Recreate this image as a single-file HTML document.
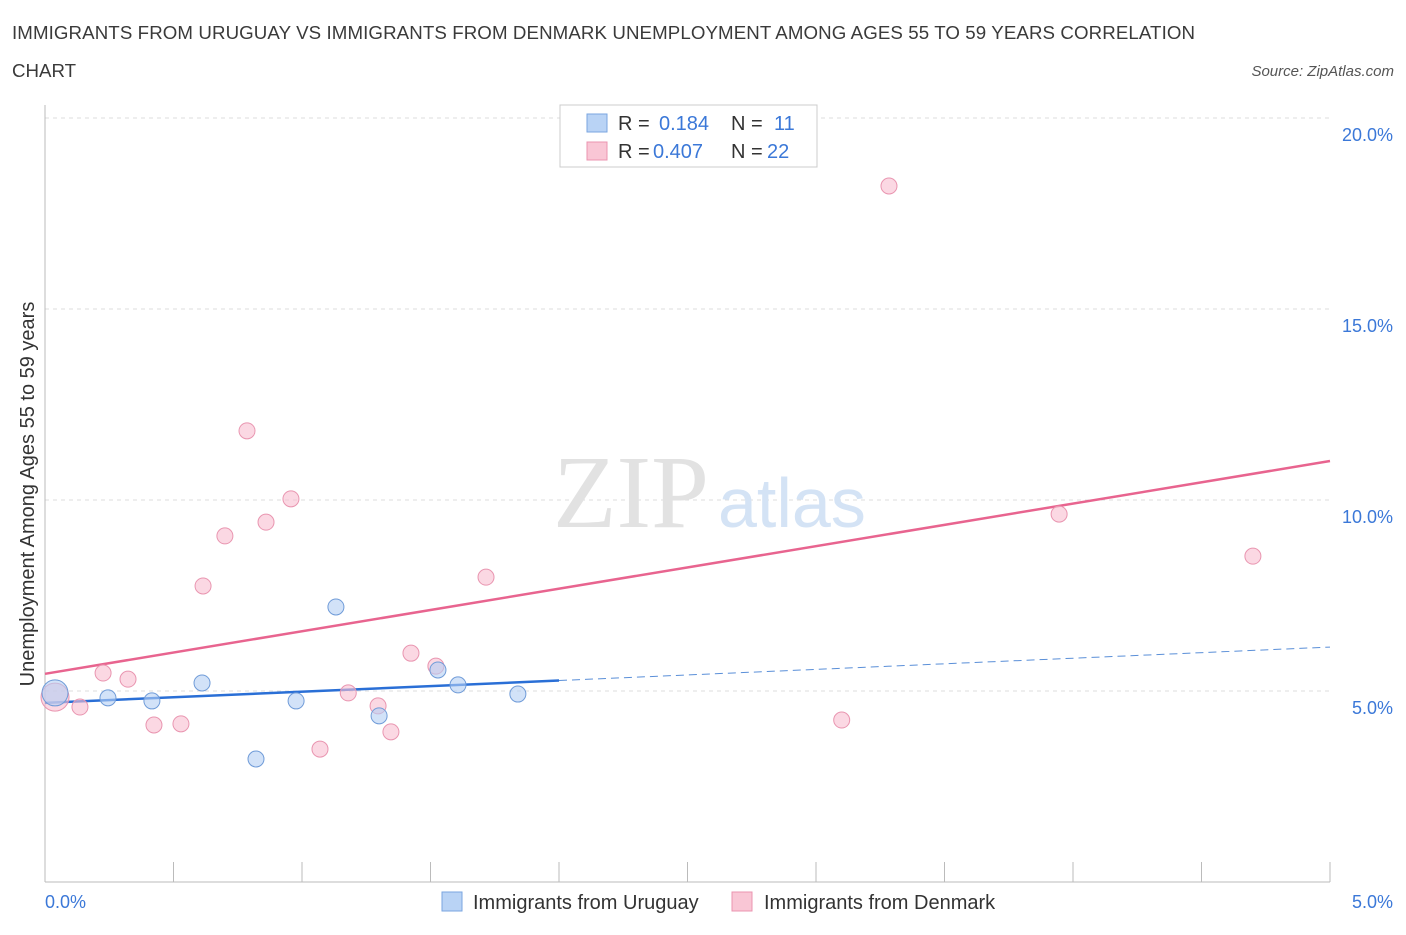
<!DOCTYPE html>
<html><head><meta charset="utf-8"><style>
body{margin:0;background:#fff;font-family:"Liberation Sans",sans-serif;}
</style></head><body>
<svg width="1406" height="930" xmlns="http://www.w3.org/2000/svg">
<text x="12" y="39" font-size="18.7" letter-spacing="0.1" fill="#3a3a3a">IMMIGRANTS FROM URUGUAY VS IMMIGRANTS FROM DENMARK UNEMPLOYMENT AMONG AGES 55 TO 59 YEARS CORRELATION</text>
<text x="12" y="77" font-size="18.7" fill="#3a3a3a">CHART</text>
<text x="1394" y="76" font-size="15" fill="#555" font-style="italic" text-anchor="end">Source: ZipAtlas.com</text>
<g id="grid"></g>
<text x="553" y="527" font-size="104" fill="#e2e2e2" font-family="Liberation Serif,serif">ZIP</text>
<text x="718" y="527" font-size="70" fill="#d4e3f5">atlas</text>
<line x1="45" y1="105" x2="45" y2="882" stroke="#bbb"/>
<line x1="45" y1="882" x2="1330" y2="882" stroke="#bbb"/>
<text transform="translate(34,494) rotate(-90)" font-size="20" fill="#333" text-anchor="middle">Unemployment Among Ages 55 to 59 years</text>
<text x="45" y="908" font-size="18" fill="#3b78d8">0.0%</text>
<text x="1393" y="908" font-size="18" fill="#3b78d8" text-anchor="end">5.0%</text>
<g id="lines"></g>
<g id="pts"></g>
<g>
<rect x="560" y="105" width="257" height="62" fill="#fff" stroke="#ccc"/>
<rect x="587" y="114" width="20" height="18" fill="#b9d3f5" stroke="#7aa6e0"/>
<rect x="587" y="142" width="20" height="18" fill="#f9c6d5" stroke="#eb94b0"/>
<text x="618" y="130" font-size="20" fill="#333">R = <tspan fill="#3b78d8" x="659">0.184</tspan><tspan x="731" fill="#333">N = </tspan><tspan fill="#3b78d8" x="774">11</tspan></text>
<text x="618" y="158" font-size="20" fill="#333">R = <tspan fill="#3b78d8" x="653">0.407</tspan><tspan x="731" fill="#333">N = </tspan><tspan fill="#3b78d8" x="767">22</tspan></text>
</g>
<g>
<rect x="442" y="892" width="20" height="19" fill="#b9d3f5" stroke="#7aa6e0"/>
<text x="473" y="909" font-size="20" fill="#333">Immigrants from Uruguay</text>
<rect x="732" y="892" width="20" height="19" fill="#f9c6d5" stroke="#eb94b0"/>
<text x="764" y="909" font-size="20" fill="#333">Immigrants from Denmark</text>
</g>
</svg>
<script>
const yTicks=[5,10,15,20];
const yTickLabels=["5.0%","10.0%","15.0%","20.0%"];
const uruguayX=[0.039,0.245,0.416,0.611,0.821,0.977,1.132,1.30,1.529,1.607,1.84];
const uruguayY=[4.95,4.82,4.74,5.21,3.22,4.74,7.20,4.35,5.55,5.16,4.92];
const uruguaySize=[13,8,8,8,8,8,8,8,8,8,8];
const denmarkX=[0.039,0.136,0.226,0.323,0.424,0.529,0.615,0.70,0.786,0.86,0.957,1.07,1.18,1.296,1.346,1.424,1.521,1.716,3.10,3.284,3.946,4.70];
const denmarkY=[4.84,4.58,5.47,5.31,4.11,4.14,7.75,9.06,11.81,9.42,10.03,3.48,4.95,4.61,3.93,5.99,5.65,7.98,4.24,18.22,9.63,8.53];
const uruguayTrend=[4.69,6.15];
const uruguaySolidEnd=2.0;
const denmarkTrend=[5.45,11.02];
const NS="http://www.w3.org/2000/svg";
const xs=v=>45+v/5*1285;
const ys=v=>882-v/5*191;
function mk(t,a,p){const e=document.createElementNS(NS,t);for(const k in a)e.setAttribute(k,a[k]);p.appendChild(e);return e;}
const grid=document.getElementById('grid');
yTicks.forEach((t,i)=>{
 const l=mk('line',{x1:45,x2:1330,y1:ys(t),y2:ys(t),stroke:'#ddd','stroke-dasharray':'4,4'},grid);
 
 
 const tx=mk('text',{x:1393,y:ys(t)+23,'font-size':18,fill:'#3b78d8','text-anchor':'end'},grid);
 tx.textContent=yTickLabels[i];
 
 
});
for(let i=0;i<=10;i++){
 const t=mk('line',{x1:xs(i*0.5),x2:xs(i*0.5),y1:862,y2:882,stroke:'#bbb'},grid);
 
 
}
const L=document.getElementById('lines');
const ut=x=>uruguayTrend[0]+(uruguayTrend[1]-uruguayTrend[0])*x/5;
const dt=x=>denmarkTrend[0]+(denmarkTrend[1]-denmarkTrend[0])*x/5;
const pl=mk('line',{x1:xs(0),y1:ys(dt(0)),x2:xs(5),y2:ys(dt(5)),stroke:'#e8648f','stroke-width':2.5},L);


const bl=mk('line',{x1:xs(0),y1:ys(ut(0)),x2:xs(uruguaySolidEnd),y2:ys(ut(uruguaySolidEnd)),stroke:'#2a6fd6','stroke-width':2.5},L);


const bd=mk('line',{x1:xs(uruguaySolidEnd),y1:ys(ut(uruguaySolidEnd)),x2:xs(5),y2:ys(ut(5)),stroke:'#5a8fd8','stroke-width':1,'stroke-dasharray':'8,5'},L);


const P=document.getElementById('pts');
denmarkX.forEach((x,i)=>{
 const c=mk('circle',{cx:xs(x),cy:ys(denmarkY[i]),r:i==0?14:8,fill:'rgba(248,190,208,0.6)',stroke:'#e995b0','stroke-width':1},P);
 
 
});
uruguayX.forEach((x,i)=>{
 const c=mk('circle',{cx:xs(x),cy:ys(uruguayY[i]),r:uruguaySize[i],fill:'rgba(180,206,243,0.6)',stroke:'#6f9bd8','stroke-width':1},P);
 
 
});
</script>
</body></html>
